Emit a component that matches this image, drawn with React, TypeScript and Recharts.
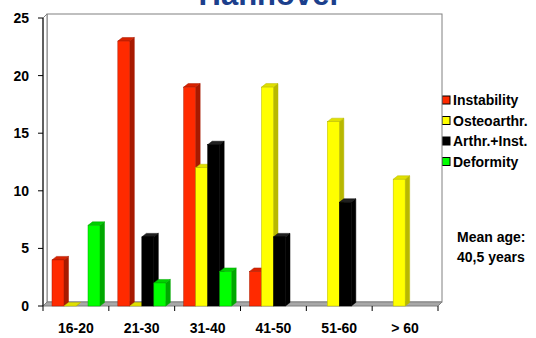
import { BarChart, Bar, XAxis, YAxis, CartesianGrid, ReferenceArea } from "recharts";

const ageGroups = ["16-20", "21-30", "31-40", "41-50", "51-60", "> 60"];
const instability = [4, 23, 19, 3, null, null];
const osteoarthr = [0, 0, 12, 19, 16, 11];
const arthrInst = [null, 6, 14, 6, 9, null];
const deformity = [7, 2, 3, null, null, null];
const yTicks = [0, 5, 10, 15, 20, 25];

const data = ageGroups.map((g, i) => ({
  group: g,
  instability: instability[i],
  osteoarthr: osteoarthr[i],
  arthrInst: arthrInst[i],
  deformity: deformity[i],
}));

const series = [
  { key: "instability", name: "Instability", fill: "#ff2a00", side: "#a81a00", top: "#d82200" },
  { key: "osteoarthr", name: "Osteoarthr.", fill: "#ffff00", side: "#b8b800", top: "#e0e000" },
  { key: "arthrInst", name: "Arthr.+Inst.", fill: "#000000", side: "#000000", top: "#202020" },
  { key: "deformity", name: "Deformity", fill: "#00ff00", side: "#00a800", top: "#00d000" },
];

const DX = 4;
const DY = 4;
const FONT = "'Liberation Sans', Arial, sans-serif";

function Bar3D(props: any) {
  const { x, y, width, height, fill, side, top } = props;
  if (x == null || y == null) return null;
  const h = Math.max(0, height);
  const dx = 4.5;
  const dy = 3.5;
  return (
    <g>
      <polygon
        points={`${x + width},${y} ${x + width + dx},${y - dy} ${x + width + dx},${y + h - dy} ${x + width},${y + h}`}
        fill={side}
        stroke={side}
        strokeWidth={0.5}
      />
      <polygon
        points={`${x},${y} ${x + dx},${y - dy} ${x + width + dx},${y - dy} ${x + width},${y}`}
        fill={top}
        stroke={side}
        strokeWidth={0.5}
      />
      {h > 0 && <rect x={x} y={y} width={width} height={h} fill={fill} stroke={side} strokeWidth={0.5} />}
    </g>
  );
}

function Frame(props: any) {
  const { x, y, width, height } = props;
  const l = x;
  const r = x + width;
  const t = y;
  const b = y + height;
  return (
    <g>
      <rect x={l + DX} y={t - DY} width={width} height={height} fill="#ffffff" stroke="#808080" strokeWidth={1} />
      <polygon points={`${l},${t} ${l + DX},${t - DY} ${l + DX},${b - DY} ${l},${b}`} fill="#ffffff" stroke="#808080" strokeWidth={1} />
      <polygon points={`${l},${b} ${l + DX},${b - DY} ${r + DX},${b - DY} ${r},${b}`} fill="#a8a8a8" stroke="#808080" strokeWidth={1} />
    </g>
  );
}

function GridLine(props: any) {
  const { x1, x2, y1, index } = props;
  if (index === 0 || index === yTicks.length - 1) return <g key={props.key} />;
  return <line key={props.key} x1={x1 + DX} x2={x2 + DX} y1={y1 - DY} y2={y1 - DY} stroke="#404040" strokeWidth={1} />;
}

function XTick(props: any) {
  const { x, y, payload } = props;
  const off = payload.offset ?? 0;
  return (
    <g>
      <line x1={x - off} x2={x - off} y1={y} y2={y + 5} stroke="#000" />
      {payload.index === ageGroups.length - 1 && (
        <line x1={x + off} x2={x + off} y1={y} y2={y + 5} stroke="#000" />
      )}
      <text x={x} y={y + 27} textAnchor="middle" fontFamily={FONT} fontWeight="bold" fontSize={14} fill="#000">
        {payload.value}
      </text>
    </g>
  );
}

export default function App() {
  return (
    <div style={{ position: "absolute", left: 0, top: 0, width: 536, height: 338, background: "#fff", overflow: "hidden" }}>
      <BarChart
        width={536}
        height={338}
        data={data}
        margin={{ top: 18, right: 98, left: 0, bottom: 2 }}
        barCategoryGap={9}
        barGap={0}
      >
        <text x={270} y={5} textAnchor="middle" fontFamily={FONT} fontWeight="bold" fontSize={31} fill="#1c3f8c">
          Hannover
        </text>
        <ReferenceArea y1={0} y2={25} shape={<Frame />} ifOverflow="visible" />
        <CartesianGrid vertical={false} horizontal={(p: any) => <GridLine {...p} />} />
        <XAxis dataKey="group" height={30} tick={<XTick />} tickLine={false} axisLine={false} tickSize={0} tickMargin={0} interval={0} />
        <YAxis
          domain={[0, 25]}
          ticks={yTicks}
          width={43}
          tickSize={5}
          tickMargin={9}
          axisLine={{ stroke: "#000" }}
          tickLine={{ stroke: "#000" }}
          tick={{ fill: "#000", fontFamily: FONT, fontWeight: "bold", fontSize: 14 }}
        />
        {series.map((s) => (
          <Bar
            key={s.key}
            dataKey={s.key}
            name={s.name}
            fill={s.fill}
            isAnimationActive={false}
            shape={(p: any) => <Bar3D {...p} side={s.side} top={s.top} fill={s.fill} />}
          />
        ))}
        {series.map((s, i) => (
          <g key={s.key}>
            <rect x={442} y={96 + i * 20.5} width={8} height={8} fill={s.fill} stroke="#000" strokeWidth={1} />
            <text x={453} y={105 + i * 20.5} fontFamily={FONT} fontWeight="bold" fontSize={14} fill="#000">
              {s.name}
            </text>
          </g>
        ))}
        <text x={457} y={242} fontFamily={FONT} fontWeight="bold" fontSize={14} fill="#000">
          Mean age:
        </text>
        <text x={457} y={262} fontFamily={FONT} fontWeight="bold" fontSize={14} fill="#000">
          40,5 years
        </text>
      </BarChart>
    </div>
  );
}
